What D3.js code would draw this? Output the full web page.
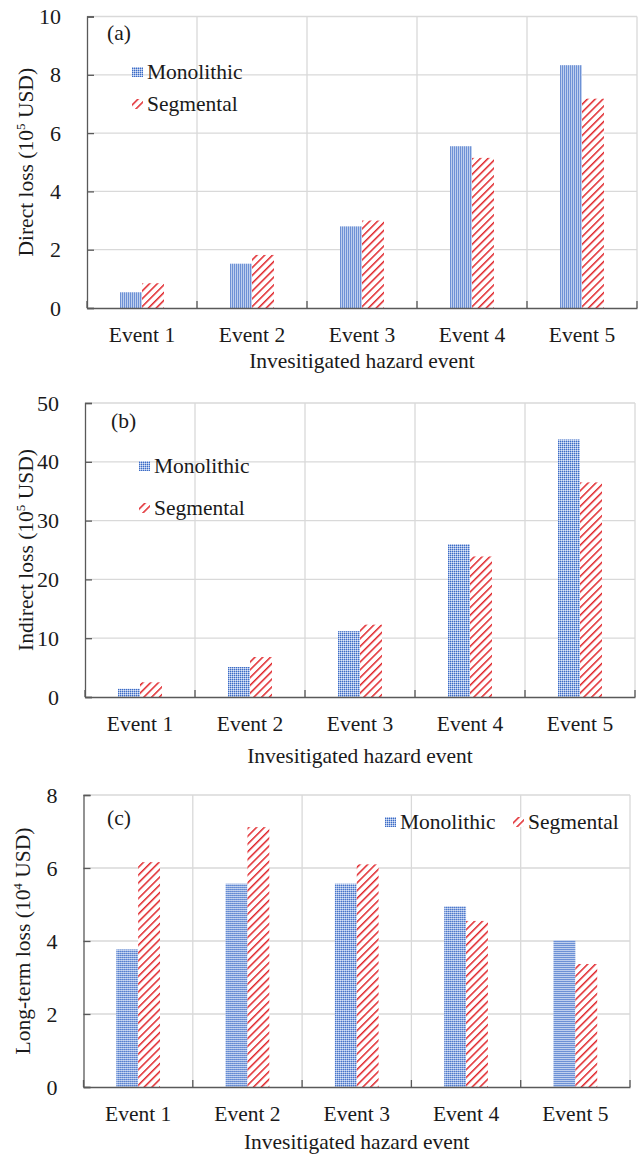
<!DOCTYPE html>
<html>
<head>
<meta charset="utf-8">
<script src="https://cdn.jsdelivr.net/npm/d3@7"></script>
<style>
    body { margin: 0; background: #fff; }
    svg text { font-family: "Liberation Serif", "Times New Roman", serif; }
</style>
</head>
<body>
<div class="plot"></div>
<script>
// chart values
const events = ["Event 1", "Event 2", "Event 3", "Event 4", "Event 5"];
const seriesNames = ["Monolithic", "Segmental"];

const directMono = [0.54, 1.52, 2.8, 5.55, 8.33];
const directSeg = [0.85, 1.82, 3.0, 5.15, 7.18];

const indirectMono = [1.4, 5.1, 11.2, 26.0, 43.8];
const indirectSeg = [2.5, 6.8, 12.3, 23.9, 36.5];

const longMono = [3.77, 5.57, 5.57, 4.95, 4.02];
const longSeg = [6.16, 7.12, 6.1, 4.55, 3.37];

const directTicks = [0, 2, 4, 6, 8, 10];
const indirectTicks = [0, 10, 20, 30, 40, 50];
const longTicks = [0, 2, 4, 6, 8];

const W = 638, H = 1155;

const svg = d3.select(".plot")
    .append("svg")
    .attr("width", W)
    .attr("height", H);

const defs = svg.append("defs");

// blue fine dotted fill
const pBlue = defs.append("pattern")
    .attr("id", "pat-mono")
    .attr("patternUnits", "userSpaceOnUse")
    .attr("width", 2).attr("height", 2);
pBlue.append("rect").attr("width", 2).attr("height", 2).attr("fill", "#9db6e6");
pBlue.append("rect").attr("width", 1).attr("height", 1).attr("fill", "#3d6cc4");
pBlue.append("rect").attr("x", 1).attr("y", 1).attr("width", 1).attr("height", 1).attr("fill", "#dfe7f6");

// red upward diagonal stripes
const pRed = defs.append("pattern")
    .attr("id", "pat-seg")
    .attr("patternUnits", "userSpaceOnUse")
    .attr("width", 5.5).attr("height", 5.5)
    .attr("patternTransform", "rotate(45)");
pRed.append("rect").attr("width", 5.5).attr("height", 5.5).attr("fill", "#fff");
pRed.append("rect").attr("x", 0).attr("width", 1.5).attr("height", 5.5).attr("fill", "#e0252a");

const fills = { "Monolithic": "url(#pat-mono)", "Segmental": "url(#pat-seg)" };

function drawPanel(opt) {
    const { left, top, width, height, max, ticks, mono, seg } = opt;

    const g = svg.append("g")
        .attr("transform", `translate(${left}, ${top})`);

    const x = d3.scaleBand()
        .domain(events)
        .range([0, width]);

    const y = d3.scaleLinear()
        .domain([0, max])
        .range([height, 0]);

    const pairW = x.bandwidth() * 0.4;
    const inner = d3.scaleBand()
        .domain(seriesNames)
        .range([0, pairW]);

    // gridlines
    g.append("g")
        .selectAll("line")
        .data(ticks.filter(d => d > 0))
        .enter().append("line")
        .attr("x1", 0).attr("x2", width)
        .attr("y1", d => y(d)).attr("y2", d => y(d))
        .attr("stroke", "#d9d9d9")
        .attr("stroke-width", 1.3);

    g.append("g")
        .selectAll("line")
        .data(d3.range(1, events.length + 1))
        .enter().append("line")
        .attr("x1", i => i * x.step())
        .attr("x2", i => i * x.step())
        .attr("y1", 0).attr("y2", height)
        .attr("stroke", "#d9d9d9")
        .attr("stroke-width", 1.3);

    // bars
    const rows = events.map((e, i) => ({ event: e, values: [
        { name: "Monolithic", v: mono[i] },
        { name: "Segmental", v: seg[i] }
    ] }));

    g.append("g")
        .selectAll("g")
        .data(rows)
        .enter().append("g")
        .attr("transform", d => `translate(${x(d.event) + (x.bandwidth() - pairW) / 2}, 0)`)
        .selectAll("rect")
        .data(d => d.values)
        .enter().append("rect")
        .attr("x", d => inner(d.name))
        .attr("width", inner.bandwidth())
        .attr("y", d => y(d.v))
        .attr("height", d => y(0) - y(d.v))
        .attr("fill", d => fills[d.name]);

    // axes, ticks inside
    const yAxis = d3.axisLeft(y)
        .tickValues(ticks)
        .tickSize(-7)
        .tickPadding(26)
        .tickFormat(d3.format("d"));

    const ya = g.append("g").attr("class", "y axis").call(yAxis)
        .attr("font-family", null).attr("font-size", null);
    ya.select(".domain").attr("stroke", "#595959").attr("stroke-width", 1.3);
    ya.selectAll(".tick line").attr("stroke", "#595959").attr("stroke-width", 1.3);
    ya.selectAll("text")
        .style("font-size", "22px")
        .attr("fill", "#1a1a1a");

    const xAxis = d3.axisBottom(x).tickSize(0).tickPadding(19);
    const xa = g.append("g")
        .attr("class", "x axis")
        .attr("transform", `translate(0, ${height})`)
        .call(xAxis)
        .attr("font-family", null).attr("font-size", null);
    xa.select(".domain").attr("stroke", "#595959").attr("stroke-width", 1.3);
    xa.selectAll("text")
        .style("font-size", "21.5px")
        .attr("fill", "#1a1a1a");

    // category boundary ticks, pointing up into the plot
    xa.append("g")
        .selectAll("line")
        .data(d3.range(events.length + 1))
        .enter().append("line")
        .attr("x1", i => i * x.step()).attr("x2", i => i * x.step())
        .attr("y1", 0).attr("y2", -7)
        .attr("stroke", "#595959")
        .attr("stroke-width", 1.3);

    // x title
    g.append("text")
        .attr("x", width / 2)
        .attr("y", height + opt.xTitleDy)
        .attr("text-anchor", "middle")
        .style("font-size", "21.5px")
        .attr("fill", "#1a1a1a")
        .text("Invesitigated hazard event");

    // y title with superscript
    const yt = g.append("text")
        .attr("transform", `translate(${opt.yTitleX - left}, ${height / 2}) rotate(-90)`)
        .attr("text-anchor", "middle")
        .style("font-size", "21.5px")
        .attr("fill", "#1a1a1a");
    yt.append("tspan").text(opt.yTitle + " (10");
    yt.append("tspan").style("font-size", "13px").attr("dy", -8).text(opt.exp);
    yt.append("tspan").attr("dy", 8).text(" USD)");

    // panel letter
    g.append("text")
        .attr("x", opt.tag[0] - left)
        .attr("y", opt.tag[1] - top)
        .style("font-size", "21.5px")
        .attr("fill", "#1a1a1a")
        .text(opt.letter);

    // legend
    const lg = g.append("g")
        .selectAll("g")
        .data(seriesNames)
        .enter().append("g")
        .attr("transform", (d, i) => `translate(${opt.legend[i][0] - left}, ${opt.legend[i][1] - top})`);
    lg.append("rect")
        .attr("x", 0).attr("y", -5)
        .attr("width", 11).attr("height", 10)
        .attr("fill", d => fills[d]);
    lg.append("text")
        .attr("x", 15)
        .attr("y", 7)
        .style("font-size", "21.5px")
        .attr("fill", "#1a1a1a")
        .text(d => d);
}

drawPanel({
    left: 87, top: 16.5, width: 550, height: 291.5, max: 10, ticks: directTicks,
    mono: directMono, seg: directSeg,
    yTitle: "Direct loss", exp: "5", yTitleX: 33, xTitleDy: 60,
    letter: "(a)", tag: [107, 40],
    legend: [[132, 72], [132, 104]]
});

drawPanel({
    left: 85, top: 403, width: 550, height: 294, max: 50, ticks: indirectTicks,
    mono: indirectMono, seg: indirectSeg,
    yTitle: "Indirect loss", exp: "5", yTitleX: 33, xTitleDy: 66,
    letter: "(b)", tag: [111, 428],
    legend: [[139, 466], [139, 508]]
});

drawPanel({
    left: 83.5, top: 795, width: 546.5, height: 292, max: 8, ticks: longTicks,
    mono: longMono, seg: longSeg,
    yTitle: "Long-term loss", exp: "4", yTitleX: 30, xTitleDy: 62,
    letter: "(c)", tag: [107, 825],
    legend: [[385, 822], [513, 822]]
});
</script>
</body>
</html>
